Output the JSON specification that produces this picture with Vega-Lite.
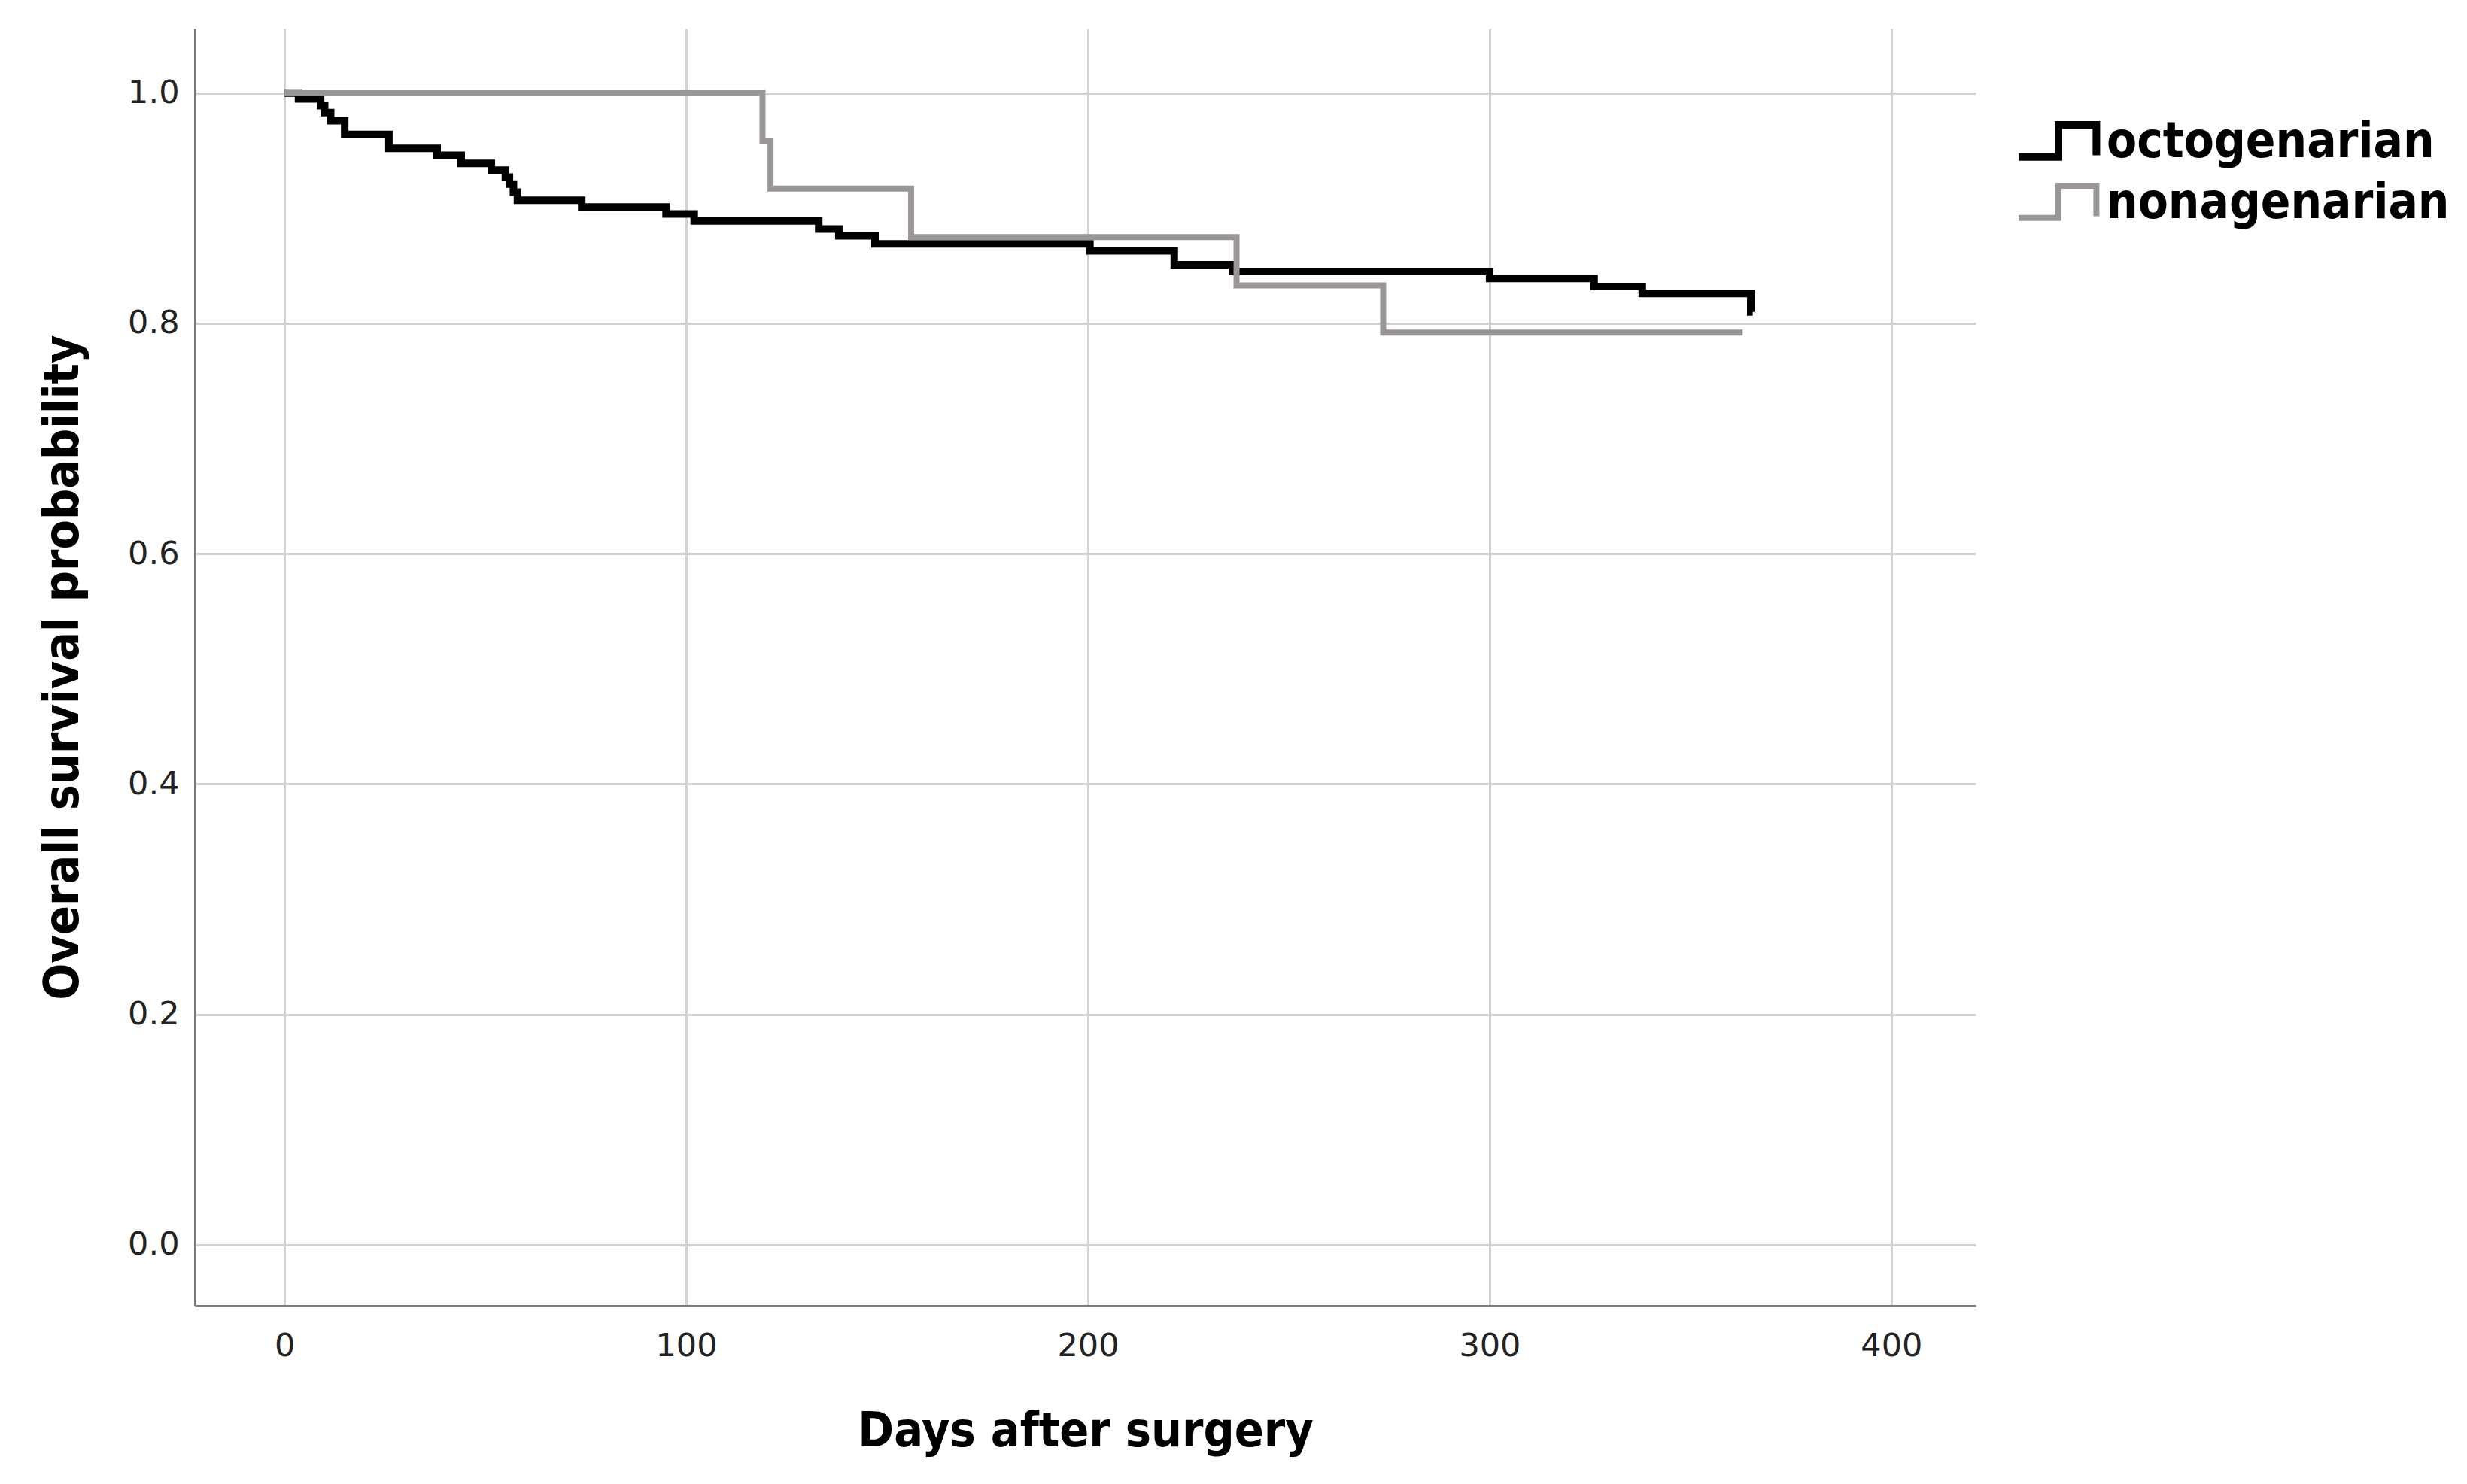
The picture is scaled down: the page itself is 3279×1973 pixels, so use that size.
{
  "$schema": "https://vega.github.io/schema/vega-lite/v6.json",
  "width": 2367,
  "height": 1698,
  "autosize": {"type": "none"},
  "padding": {"left": 259, "top": 38, "right": 653, "bottom": 237},
  "background": "white",
  "config": {
    "view": {"stroke": null},
    "axis": {
      "domainColor": "#7a7a7a",
      "domainWidth": 3,
      "gridColor": "#d2d2d2",
      "gridWidth": 3,
      "ticks": false,
      "labelFont": "DejaVu Sans",
      "labelFontSize": 43,
      "labelColor": "#222222",
      "titleFont": "DejaVu Sans Condensed",
      "titleFontWeight": "bold",
      "titleFontSize": 64,
      "titleColor": "#000000"
    },
    "legend": {
      "labelFont": "DejaVu Sans Condensed",
      "labelFontWeight": "bold",
      "labelFontSize": 65,
      "labelColor": "#000000",
      "labelLimit": 0,
      "symbolStrokeWidth": 12
    }
  },
  "data": {
    "values": [
      {"group": "octogenarian", "days": 0, "survival": 1.0},
      {"group": "octogenarian", "days": 3.5, "survival": 0.995},
      {"group": "octogenarian", "days": 9, "survival": 0.989},
      {"group": "octogenarian", "days": 10, "survival": 0.983},
      {"group": "octogenarian", "days": 11.5, "survival": 0.976},
      {"group": "octogenarian", "days": 15, "survival": 0.964},
      {"group": "octogenarian", "days": 26, "survival": 0.952},
      {"group": "octogenarian", "days": 38, "survival": 0.946},
      {"group": "octogenarian", "days": 44, "survival": 0.939},
      {"group": "octogenarian", "days": 51.5, "survival": 0.933},
      {"group": "octogenarian", "days": 55, "survival": 0.927},
      {"group": "octogenarian", "days": 56, "survival": 0.921},
      {"group": "octogenarian", "days": 57, "survival": 0.914},
      {"group": "octogenarian", "days": 58, "survival": 0.907},
      {"group": "octogenarian", "days": 74, "survival": 0.901},
      {"group": "octogenarian", "days": 95, "survival": 0.895},
      {"group": "octogenarian", "days": 102, "survival": 0.889},
      {"group": "octogenarian", "days": 133, "survival": 0.882},
      {"group": "octogenarian", "days": 138, "survival": 0.876},
      {"group": "octogenarian", "days": 147, "survival": 0.869},
      {"group": "octogenarian", "days": 200.5, "survival": 0.863},
      {"group": "octogenarian", "days": 221.5, "survival": 0.851},
      {"group": "octogenarian", "days": 236, "survival": 0.845},
      {"group": "octogenarian", "days": 300, "survival": 0.839},
      {"group": "octogenarian", "days": 326, "survival": 0.832},
      {"group": "octogenarian", "days": 338, "survival": 0.826},
      {"group": "octogenarian", "days": 365, "survival": 0.81},
      {"group": "octogenarian", "days": 365.5, "survival": 0.81},
      {"group": "nonagenarian", "days": 0, "survival": 1.0},
      {"group": "nonagenarian", "days": 119, "survival": 0.958},
      {"group": "nonagenarian", "days": 121, "survival": 0.917},
      {"group": "nonagenarian", "days": 156, "survival": 0.875},
      {"group": "nonagenarian", "days": 237, "survival": 0.833},
      {"group": "nonagenarian", "days": 273.5, "survival": 0.792},
      {"group": "nonagenarian", "days": 363, "survival": 0.792}
    ]
  },
  "mark": {"type": "line", "interpolate": "step-after", "strokeCap": "butt", "strokeJoin": "miter"},
  "encoding": {
    "x": {
      "field": "days",
      "type": "quantitative",
      "scale": {"domain": [-22.3, 421], "nice": false, "zero": false},
      "axis": {"values": [0, 100, 200, 300, 400], "title": "Days after surgery", "labelPadding": 32, "titlePadding": 60}
    },
    "y": {
      "field": "survival",
      "type": "quantitative",
      "scale": {"domain": [-0.053, 1.056], "nice": false, "zero": false},
      "axis": {"values": [0, 0.2, 0.4, 0.6, 0.8, 1.0], "format": ".1f", "title": "Overall survival probability", "labelPadding": 21, "titlePadding": 53}
    },
    "color": {
      "field": "group",
      "type": "nominal",
      "scale": {"domain": ["octogenarian", "nonagenarian"], "range": ["#000000", "#9b9696"]},
      "legend": {
        "title": null,
        "orient": "none",
        "legendX": 2460,
        "legendY": 113,
        "symbolType": "M-2.26,0.62 L-0.63,0.62 L-0.63,-0.69 L0.92,-0.69 L0.92,0.55",
        "symbolSize": 4225,
        "rowPadding": 2,
        "labelOffset": 6
      }
    },
    "strokeWidth": {
      "field": "group",
      "type": "nominal",
      "scale": {"domain": ["octogenarian", "nonagenarian"], "range": [10, 8]},
      "legend": null
    }
  }
}
